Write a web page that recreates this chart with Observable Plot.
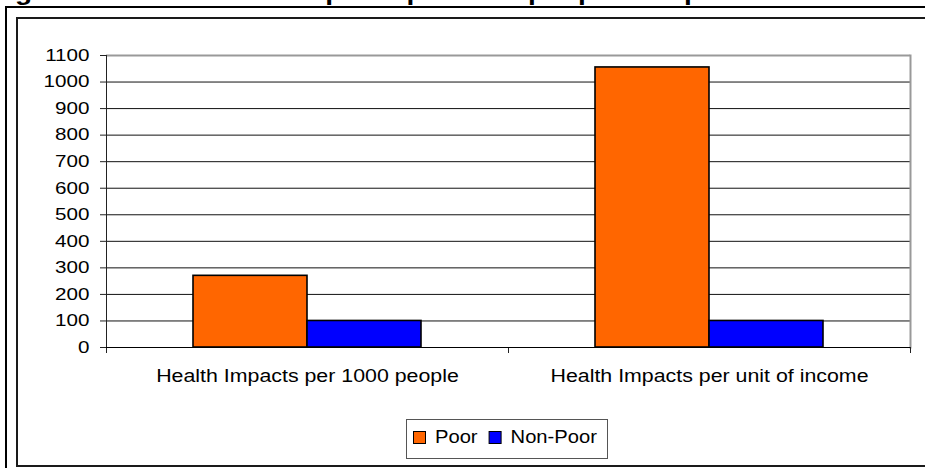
<!DOCTYPE html>
<html>
<head>
<meta charset="utf-8">
<script src="https://cdn.jsdelivr.net/npm/d3@7"></script>
<script src="https://cdn.jsdelivr.net/npm/@observablehq/plot@0.6"></script>
<style>
  html, body { margin: 0; padding: 0; background: #fff; overflow: hidden; }
  #root { position: relative; width: 925px; height: 468px; overflow: hidden; background: #fff;
          font-family: "Liberation Sans", Arial, sans-serif; color: #000; }
  #title { position: absolute; left: -10px; top: -19px; font-weight: bold; font-size: 23px;
           line-height: 23px; white-space: pre; transform: scaleX(1.22); transform-origin: 0 0; }
  #title .lead { margin-right: 55px; }
  .outer { position: absolute; left: 5px; top: 6px; width: 1200px; height: 800px; border: 2px solid #000; }
  .inner { position: absolute; left: 16px; top: 17px; width: 1200px; height: 446px; border: 2px solid #1a1a1a; border-right: none; }
  #chart { position: absolute; left: 0; top: 0; }
  #legend { position: absolute; left: 406px; top: 419px; }
</style>
</head>
<body>
<div id="root">
  <div id="title"><span class="lead">Figure 3.4:</span>Health Impacts per 1000 people and per unit of income</div>
  <div class="outer"></div>
  <div class="inner"></div>
  <div id="chart"></div>
  <div id="legend"></div>
</div>
<script>
// Categories, series and values
const categories = ["Health Impacts per 1000 people", "Health Impacts per unit of income"];
const series = ["Poor", "Non-Poor"];
const poorValues = [270, 1055];
const nonPoorValues = [100, 100];
const seriesColors = ["#FF6600", "#0000FF"];
const yTicks = [0, 100, 200, 300, 400, 500, 600, 700, 800, 900, 1000, 1100];

const rows = categories.flatMap((category, i) => [
  {category, series: series[0], value: poorValues[i]},
  {category, series: series[1], value: nonPoorValues[i]}
]);

const W = 925, H = 400;
const mLeft = 105, mRight = 15, mTop = 55, mBottom = 53;
const plotH = H - mTop - mBottom;
const yMax = yTicks[yTicks.length - 1];

const chart = Plot.plot({
  width: W,
  height: H,
  marginLeft: mLeft,
  marginRight: mRight,
  marginTop: mTop,
  marginBottom: mBottom,
  style: {fontFamily: '"Liberation Sans", Arial, sans-serif', color: "#000", background: "transparent", overflow: "visible"},
  fx: {domain: categories, padding: 0, label: null},
  x: {domain: series, paddingInner: 0, paddingOuter: 0.75, axis: null},
  y: {domain: [0, yMax], label: null},
  color: {domain: series, range: seriesColors},
  marks: [
    // horizontal gridlines
    Plot.gridY(yTicks.filter(t => t > 0 && t < yMax), {stroke: "#111", strokeOpacity: 1, strokeWidth: 1}),
    // top and right edges of the plot area
    Plot.ruleY([yMax], {stroke: "#999", strokeWidth: 2}),
    Plot.frame({anchor: "right", facetAnchor: "right", stroke: "#999", strokeWidth: 2}),
    // left axis line, extending just below the baseline
    Plot.frame({anchor: "left", facetAnchor: "left", stroke: "#222", strokeWidth: 1, insetBottom: -5}),
    // category boundary ticks below the baseline
    Plot.frame({anchor: "left", stroke: "#222", strokeWidth: 1, insetTop: plotH, insetBottom: -5}),
    Plot.frame({anchor: "right", facetAnchor: "right", stroke: "#222", strokeWidth: 1, insetTop: plotH, insetBottom: -5}),
    // bars
    Plot.barY(rows, {fx: "category", x: "series", y: "value", fill: "series", stroke: "#000", strokeWidth: 1.6}),
    // baseline
    Plot.ruleY([0], {stroke: "#000", strokeWidth: 1.2}),
    Plot.axisY({ticks: yTicks, tickSize: 6, tickPadding: 11, fontSize: 16.5, tickFormat: d => String(d), label: null, stroke: "#222"}),
    Plot.axisFx({anchor: "bottom", tickSize: 0, tickPadding: 22, fontSize: 17.5, label: null})
  ]
});

document.getElementById("chart").appendChild(chart);

// widen axis labels horizontally
function stretch(sel, k) {
  sel.forEach(t => {
    const len = t.getComputedTextLength();
    t.setAttribute("textLength", (len * k).toFixed(2));
    t.setAttribute("lengthAdjust", "spacingAndGlyphs");
  });
}
stretch(chart.querySelectorAll('g[aria-label="y-axis tick label"] text'), 1.25);
stretch(chart.querySelectorAll('g[aria-label="fx-axis tick label"] text'), 1.22);

// legend box
const lg = d3.select("#legend").append("svg").attr("width", 203).attr("height", 41)
  .style("font-family", '"Liberation Sans", Arial, sans-serif');
lg.append("rect").attr("x", 0.5).attr("y", 0.5).attr("width", 201).attr("height", 39)
  .attr("fill", "#fff").attr("stroke", "#555").attr("stroke-width", 1);
let cx = 7;
series.forEach((s, i) => {
  lg.append("rect").attr("x", cx + 0.5).attr("y", 12.5).attr("width", 12).attr("height", 12)
    .attr("fill", seriesColors[i]).attr("stroke", "#000").attr("stroke-width", 1);
  cx += 22;
  const t = lg.append("text").attr("x", cx).attr("y", 24).attr("font-size", 18).attr("fill", "#000").text(s);
  const len = t.node().getComputedTextLength() * 1.12;
  t.attr("textLength", len.toFixed(2)).attr("lengthAdjust", "spacingAndGlyphs");
  cx += len + 11;
});
</script>
</body>
</html>
